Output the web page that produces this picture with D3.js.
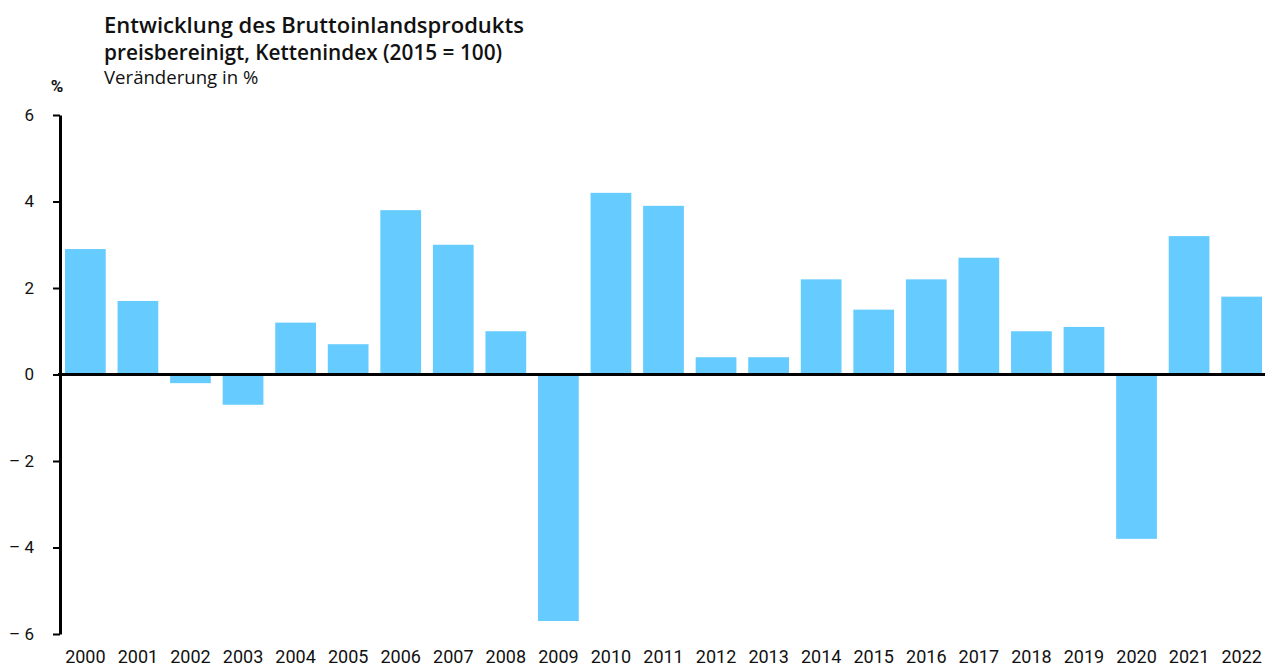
<!DOCTYPE html>
<html>
<head>
<meta charset="utf-8">
<script src="https://cdn.jsdelivr.net/npm/d3@7"></script>
<style>
  body { margin: 0; background: #fff; }
  text { font-family: Roboto, "Noto Sans", sans-serif; fill: #111; }
  .title { font-family: "Open Sans", Roboto, sans-serif; }
  .bar { fill: #66ccff; }
  .axis .domain, .axis line { stroke: #000; }
</style>
</head>
<body>
<div id="chart-area"></div>
<script>

// DATA

var years = ["2000", "2001", "2002", "2003", "2004", "2005", "2006", "2007", "2008", "2009", "2010",
             "2011", "2012", "2013", "2014", "2015", "2016", "2017", "2018", "2019", "2020", "2021", "2022"];

var growth = [2.9, 1.7, -0.2, -0.7, 1.2, 0.7, 3.8, 3.0, 1.0, -5.7, 4.2,
              3.9, 0.4, 0.4, 2.2, 1.5, 2.2, 2.7, 1.0, 1.1, -3.8, 3.2, 1.8];

var yTicks = [-6, -4, -2, 0, 2, 4, 6];

var titleLines = ["Entwicklung des Bruttoinlandsprodukts", "preisbereinigt, Kettenindex (2015 = 100)"];
var subtitle = "Veränderung in %";
var unitLabel = "%";


// CHART AREA

var width = 1265, height = 666;

var svg = d3.select("#chart-area").append("svg")
    .attr("width", width)
    .attr("height", height);

var data = years.map(function(d, i) { return {year: d, value: growth[i]}; });


// SCALES

var x = d3.scaleBand()
    .domain(years)
    .range([65, 1262])
    .paddingInner(0.225)
    .paddingOuter(0);

var y = d3.scaleLinear()
    .domain([-6, 6])
    .range([634, 115]);


// BARS

svg.selectAll(".bar")
    .data(data)
    .enter()
    .append("rect")
    .attr("class", "bar")
    .attr("x", function(d) { return x(d.year); })
    .attr("y", function(d) { return y(Math.max(0, d.value)); })
    .attr("width", x.bandwidth())
    .attr("height", function(d) { return Math.abs(y(d.value) - y(0)); });


// AXES

var yAxis = d3.axisLeft(y)
    .tickValues(yTicks)
    .tickSizeInner(7)
    .tickSizeOuter(0)
    .tickPadding(19)
    .tickFormat(function(d) { return d < 0 ? "\u2013 " + Math.abs(d) : d; });

var yAxisGroup = svg.append("g")
    .attr("class", "y-axis axis")
    .attr("transform", "translate(60,0)")
    .call(yAxis);

yAxisGroup.select(".domain").attr("stroke-width", 3);
yAxisGroup.selectAll(".tick line").attr("stroke-width", 2);
yAxisGroup.selectAll(".tick text")
    .style("font-size", "17px");

// zero line
svg.append("line")
    .attr("x1", 58)
    .attr("x2", width)
    .attr("y1", y(0))
    .attr("y2", y(0))
    .attr("stroke", "#000")
    .attr("stroke-width", 3);

var xAxis = d3.axisBottom(x)
    .tickSize(0)
    .tickPadding(0);

var xAxisGroup = svg.append("g")
    .attr("class", "x-axis axis")
    .attr("transform", "translate(0,663)")
    .call(xAxis);

xAxisGroup.select(".domain").remove();
xAxisGroup.selectAll(".tick text")
    .style("font-size", "18px")
    .attr("dy", "0");


// TITLES

svg.append("text")
    .attr("class", "title")
    .attr("x", 104)
    .attr("y", 33)
    .style("font-size", "22px")
    .style("font-weight", "600")
    .text(titleLines[0]);

svg.append("text")
    .attr("class", "title")
    .attr("x", 104)
    .attr("y", 60)
    .style("font-size", "20.8px")
    .style("font-weight", "600")
    .text(titleLines[1]);

svg.append("text")
    .attr("class", "title")
    .attr("x", 104)
    .attr("y", 84)
    .style("font-size", "18.6px")
    .text(subtitle);

svg.append("text")
    .attr("x", 57)
    .attr("y", 92)
    .style("text-anchor", "middle")
    .style("font-size", "17px")
    .style("font-weight", "bold")
    .text(unitLabel);

</script>
</body>
</html>
